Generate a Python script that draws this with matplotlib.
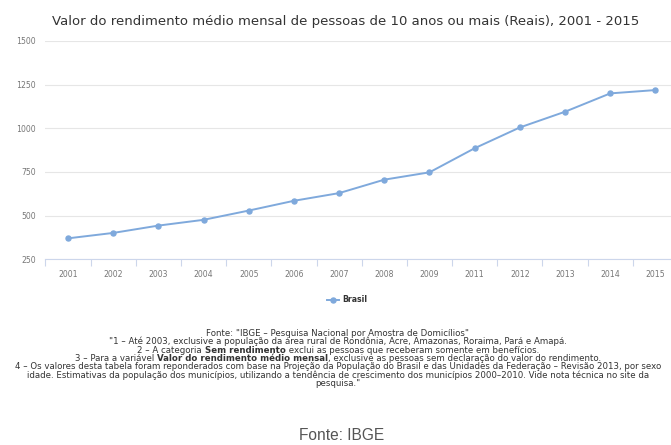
'''Recreate the IBGE average monthly income chart.'''
# pylint: disable=invalid-name
import matplotlib.pyplot as plt
import numpy as np

YEARS = ['2001', '2002', '2003', '2004', '2005', '2006', '2007',
         '2008', '2009', '2011', '2012', '2013', '2014', '2015']
BRASIL = [370, 401, 443, 476, 529, 585, 629,
          706, 748, 886, 1005, 1095, 1200, 1219]
Y_TICKS = [250, 500, 750, 1000, 1250, 1500]

TITLE = ('Valor do rendimento médio mensal de pessoas de 10 anos ou mais '
         '(Reais), 2001 - 2015')
SERIES_NAME = 'Brasil'

# each note line is a list of (text, bold) pieces
NOTES = [
    [('Fonte: "IBGE – Pesquisa Nacional por Amostra de Domicílios"', False)],
    [('"1 – Até 2003, exclusive a população da área rural de Rondônia, '
      'Acre, Amazonas, Roraima, Pará e Amapá.', False)],
    [('2 – A categoria ', False), ('Sem rendimento', True),
     (' exclui as pessoas que receberam somente em benefícios.', False)],
    [('3 – Para a variável ', False),
     ('Valor do rendimento médio mensal', True),
     (', exclusive as pessoas sem declaração do valor do rendimento.',
      False)],
    [('4 – Os valores desta tabela foram reponderados com base na Projeção '
      'da População do Brasil e das Unidades da Federação – Revisão 2013, '
      'por sexo', False)],
    [('idade. Estimativas da população dos municípios, utilizando a '
      'tendência de crescimento dos municípios 2000–2010. Vide nota técnica '
      'no site da', False)],
    [('pesquisa."', False)],
]
SOURCE = 'Fonte: IBGE'

LINE_COLOR = '#7fa9dc'
GRID_COLOR = '#e6e6e6'
AXIS_COLOR = '#ccd6eb'
LABEL_COLOR = '#777777'
W, H = 671, 445


def px(x, y):
    '''Pixel position (top-left origin) to figure fraction.'''
    return x / W, 1 - y / H


def draw_note_line(fig, renderer, pieces, y, size=6.2):
    '''Draw one centered note line made of normal and bold pieces.'''
    texts = []
    for txt, bold in pieces:
        t = fig.text(0, 0, txt, fontsize=size, color='#333333',
                     fontweight='bold' if bold else 'normal',
                     va='baseline', ha='left')
        texts.append(t)
    widths = [t.get_window_extent(renderer).width for t in texts]
    x = 338 - sum(widths) / 2
    for t, w in zip(texts, widths):
        t.set_position(px(x, y))
        x += w


def main():
    '''Main.'''
    fig = plt.figure(figsize=(W / 100, H / 100), dpi=100)
    x0, y0 = px(45.4, 259.3)
    x1, y1 = px(678, 41)
    ax = fig.add_axes([x0, y0, x1 - x0, y1 - y0])

    x = np.arange(len(YEARS))
    ax.plot(x, BRASIL, color=LINE_COLOR, lw=1.4, marker='o', ms=3.6,
            zorder=3)

    ax.set_xlim(-0.5, len(YEARS) - 0.5)
    ax.set_ylim(Y_TICKS[0], Y_TICKS[-1])
    ax.set_yticks(Y_TICKS)
    ax.set_yticklabels([str(v) for v in Y_TICKS], fontsize=5.6,
                       color=LABEL_COLOR)
    ax.tick_params(axis='y', length=0, pad=7)
    ax.grid(axis='y', color=GRID_COLOR, lw=0.8)
    ax.set_axisbelow(True)

    # category labels centered, tick marks between categories
    ax.set_xticks(x)
    ax.set_xticklabels(YEARS, fontsize=5.6, color=LABEL_COLOR)
    ax.tick_params(axis='x', which='major', length=0, pad=8)
    ax.set_xticks(np.arange(-0.5, len(YEARS)), minor=True)
    ax.tick_params(axis='x', which='minor', length=5, color=AXIS_COLOR,
                   width=0.8)

    for side in ['top', 'right', 'left']:
        ax.spines[side].set_visible(False)
    ax.spines['bottom'].set_color(AXIS_COLOR)
    ax.spines['bottom'].set_linewidth(0.8)

    fig.text(*px(346, 22), TITLE, fontsize=9.5, color='#333333',
             ha='center', va='center')

    # legend
    lx, ly = px(327, 300)
    lx2, _ = px(339, 300)
    fig.add_artist(plt.Line2D([lx, lx2], [ly, ly], color=LINE_COLOR,
                              lw=1.4, transform=fig.transFigure))
    fig.add_artist(plt.Line2D([(lx + lx2) / 2], [ly], color=LINE_COLOR,
                              marker='o', ms=3.6,
                              transform=fig.transFigure))
    fig.text(*px(342, 300), SERIES_NAME, fontsize=5.6, fontweight='bold',
             color='#333333', ha='left', va='center')

    renderer = fig.canvas.get_renderer()
    for i, pieces in enumerate(NOTES):
        draw_note_line(fig, renderer, pieces, 336 + i * 8.3)

    fig.text(*px(342, 436), SOURCE, fontsize=11.2, color='#555555',
             family='Liberation Sans', ha='center', va='center')

    fig.savefig('out.png', dpi=100)


if __name__ == '__main__':
    main()
